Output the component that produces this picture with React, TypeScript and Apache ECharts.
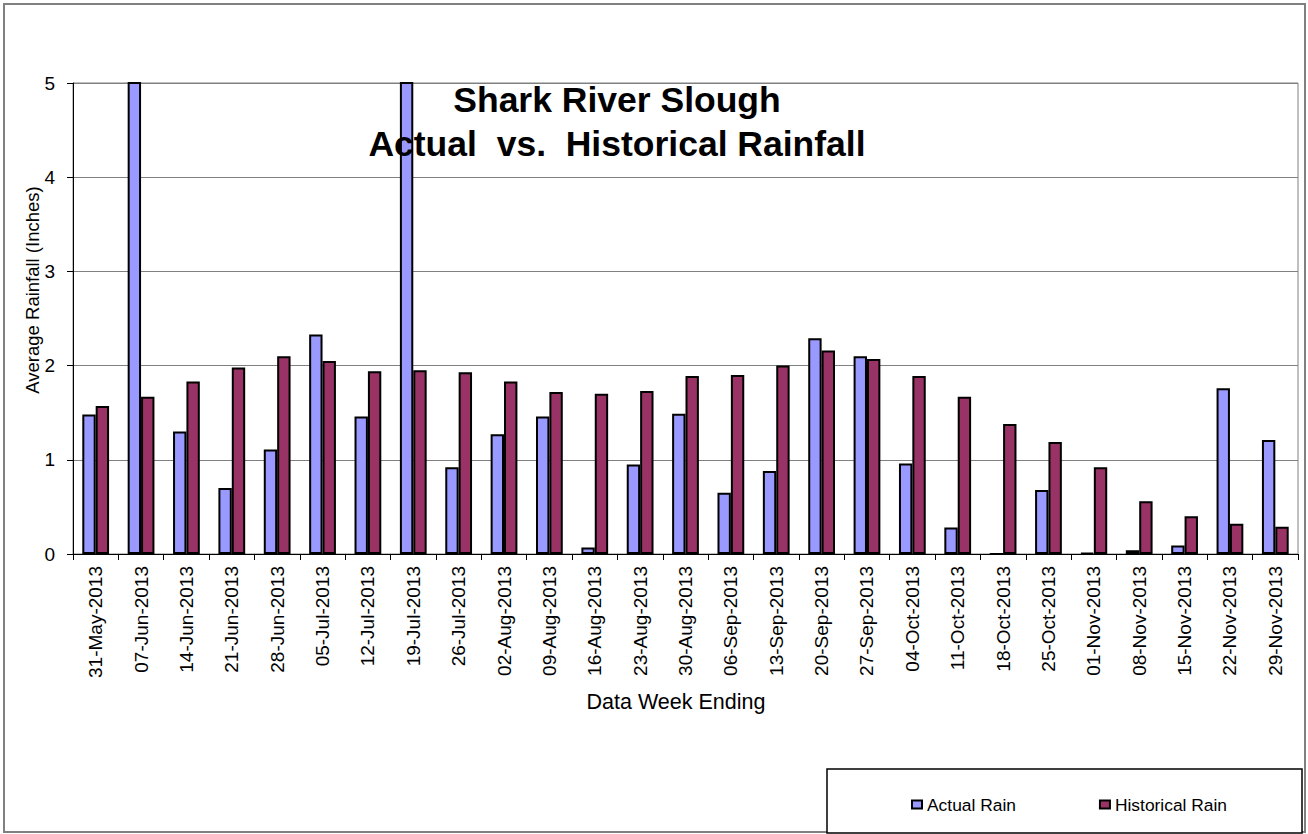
import React, { useEffect, useRef } from "react";
import * as echarts from "echarts";

const categories = [
  "31-May-2013", "07-Jun-2013", "14-Jun-2013", "21-Jun-2013", "28-Jun-2013",
  "05-Jul-2013", "12-Jul-2013", "19-Jul-2013", "26-Jul-2013", "02-Aug-2013",
  "09-Aug-2013", "16-Aug-2013", "23-Aug-2013", "30-Aug-2013", "06-Sep-2013",
  "13-Sep-2013", "20-Sep-2013", "27-Sep-2013", "04-Oct-2013", "11-Oct-2013",
  "18-Oct-2013", "25-Oct-2013", "01-Nov-2013", "08-Nov-2013", "15-Nov-2013",
  "22-Nov-2013", "29-Nov-2013",
];

const actualRain = [
  1.48, 5.5, 1.30, 0.70, 1.11, 2.33, 1.46, 5.5, 0.92, 1.27, 1.46, 0.07, 0.95,
  1.49, 0.65, 0.88, 2.29, 2.10, 0.96, 0.28, 0, 0.68, 0.01, 0.04, 0.09, 1.76, 1.21,
];

const historicalRain = [
  1.57, 1.67, 1.83, 1.98, 2.10, 2.05, 1.94, 1.95, 1.93, 1.83, 1.72, 1.70, 1.73,
  1.89, 1.90, 2.00, 2.16, 2.07, 1.89, 1.67, 1.38, 1.19, 0.92, 0.56, 0.40, 0.32, 0.29,
];

const yTicks = { min: 0, max: 5, interval: 1 };

const FONT = "'Liberation Sans', Arial, Helvetica, sans-serif";

export default function App() {
  const ref = useRef<HTMLDivElement>(null);

  useEffect(() => {
    if (!ref.current) return;
    const chart = echarts.init(ref.current, undefined, { renderer: "svg" });
    chart.setOption({
      animation: false,
      backgroundColor: "#ffffff",
      textStyle: { fontFamily: FONT },
      title: {
        text: "Shark River Slough\nActual  vs.  Historical Rainfall",
        left: 612,
        top: 73,
        textAlign: "center",
        textStyle: {
          fontFamily: FONT,
          fontSize: 35.5,
          fontWeight: "bold",
          color: "#000",
          lineHeight: 44,
        },
      },
      grid: {
        left: 73,
        right: 10,
        top: 83,
        bottom: 280,
        show: true,
        borderColor: "#808080",
        borderWidth: 1,
        containLabel: false,
      },
      legend: {
        data: ["Actual Rain", "Historical Rain"],
        left: 906,
        top: 791,
        itemWidth: 10,
        itemHeight: 8,
        itemGap: 83,
        icon: "rect",
        textStyle: { fontFamily: FONT, fontSize: 17.4, color: "#000" },
      },
      xAxis: {
        type: "category",
        data: categories,
        axisLine: { show: true, lineStyle: { color: "#000", width: 1 } },
        axisTick: { show: true, length: 6, lineStyle: { color: "#000" } },
        axisLabel: {
          rotate: 90,
          margin: 12,
          interval: 0,
          fontSize: 19,
          fontFamily: FONT,
          color: "#000",
        },
        splitLine: { show: false },
      },
      yAxis: {
        type: "value",
        min: yTicks.min,
        max: yTicks.max,
        interval: yTicks.interval,
        axisLine: { show: true, lineStyle: { color: "#000", width: 1 } },
        axisTick: { show: true, length: 6, lineStyle: { color: "#000" } },
        axisLabel: { margin: 18, fontSize: 19, fontFamily: FONT, color: "#000" },
        splitLine: { show: true, lineStyle: { color: "#808080", width: 1 } },
      },
      series: [
        {
          name: "Actual Rain",
          type: "bar",
          data: actualRain,
          barGap: "0%",
          barCategoryGap: "41%",
          clip: true,
          itemStyle: { color: "#9999FF", borderColor: "#000", borderWidth: 2 },
        },
        {
          name: "Historical Rain",
          type: "bar",
          data: historicalRain,
          barGap: "0%",
          barCategoryGap: "41%",
          clip: true,
          itemStyle: { color: "#993366", borderColor: "#000", borderWidth: 2 },
        },
      ],
      graphic: [
        {
          type: "rect",
          z: -10,
          silent: true,
          shape: { x: 4, y: 4, width: 1301, height: 828 },
          style: { fill: "none", stroke: "#808080", lineWidth: 2 },
        },
        {
          type: "rect",
          z: -5,
          silent: true,
          shape: { x: 827, y: 769, width: 475, height: 64 },
          style: { fill: "#fff", stroke: "#000", lineWidth: 1.5 },
        },
        {
          type: "text",
          x: 676,
          y: 702,
          silent: true,
          style: {
            text: "Data Week Ending",
            fontSize: 21.5,
            fontFamily: FONT,
            fill: "#000",
            align: "center",
            verticalAlign: "middle",
          },
        },
        {
          type: "text",
          x: 32,
          y: 290,
          rotation: Math.PI / 2,
          silent: true,
          style: {
            text: "Average Rainfall (Inches)",
            fontSize: 18.5,
            fontFamily: FONT,
            fill: "#000",
            align: "center",
            verticalAlign: "middle",
          },
        },
      ],
    });
    return () => chart.dispose();
  }, []);

  return (
    <div
      ref={ref}
      style={{ position: "fixed", left: 0, top: 0, width: 1308, height: 834 }}
    />
  );
}
